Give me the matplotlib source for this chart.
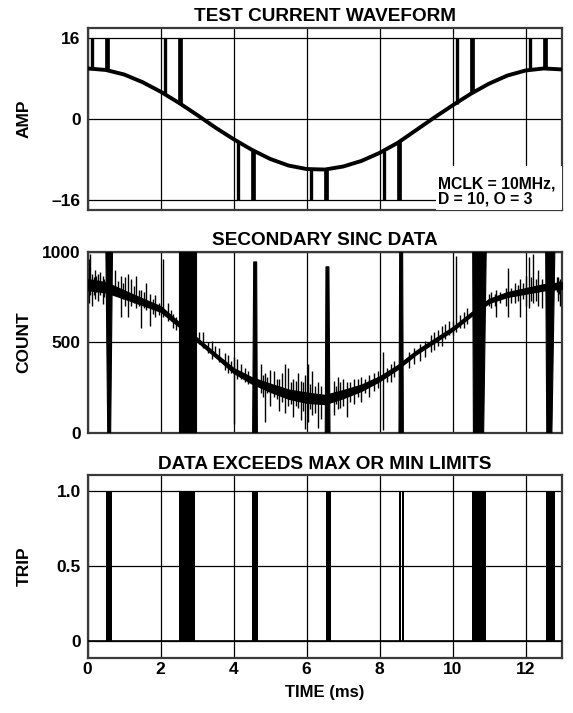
import numpy as np
import matplotlib
matplotlib.use("Agg")
import matplotlib.pyplot as plt
from matplotlib.patches import Rectangle, Polygon

plt.rcParams['font.family'] = ['Liberation Sans', 'DejaVu Sans']
plt.rcParams['font.weight'] = 'bold'
plt.rcParams['axes.labelweight'] = 'bold'
plt.rcParams['axes.titleweight'] = 'bold'

# ---- top panel: test current waveform (0.5 ms steps)
amp_t = [0, 0.5, 1, 1.5, 2, 2.5, 3, 3.5, 4, 4.5, 5, 5.5, 6, 6.5,
         7, 7.5, 8, 8.5, 9, 9.5, 10, 10.5, 11, 11.5, 12, 12.5, 13]
amp_v = [10.0, 9.7, 8.8, 7.3, 5.4, 3.2, 0.8, -1.7, -4.0, -6.1, -7.9, -9.2, -9.9, -10.0,
         -9.4, -8.3, -6.7, -4.7, -2.2, 0.3, 2.7, 5.0, 7.0, 8.6, 9.6, 10.0, 9.8]
# test pulses: time, start (on the curve), end (full scale)
pulse_t = [0.12, 0.54, 2.12, 2.54, 4.12, 4.54, 6.12, 6.54, 8.12, 8.54, 10.12, 10.54, 12.12, 12.54]
pulse_from = [10.0, 9.6, 4.9, 3.0, -4.6, -6.3, -9.9, -10.0, -6.4, -4.4, 2.9, 5.2, 9.7, 10.0]
pulse_to = [16, 16, 16, 16, -16, -16, -16, -16, -16, -16, 16, 16, 16, 16]
pulse_lw = [2.4, 3.4] * 7

# ---- middle panel: secondary sinc data
sinc_t = amp_t
sinc_mid = [820, 805, 765, 725, 685, 600, 515, 430, 345, 290, 250, 215, 195, 185,
            215, 250, 300, 365, 445, 510, 575, 655, 730, 765, 785, 805, 815]
sinc_half = [30, 28, 22, 18, 15, 12, 10, 10, 13, 17, 22, 25, 28, 25,
             22, 17, 13, 11, 10, 10, 10, 10, 11, 13, 15, 17, 18]
# noise spikes: time, low, high
spike_t = [0.03, 0.07, 0.12, 0.16, 0.2, 0.24, 0.28, 0.35, 0.42, 0.46, 0.75, 0.82, 0.9, 0.96,
           1.02, 1.1, 1.2, 1.27, 1.32, 1.4, 1.45, 1.55, 1.6, 1.7, 1.78, 1.85, 1.95, 2.07,
           2.2, 2.28, 2.35, 2.42, 3.05, 3.15, 3.3, 3.4, 3.5, 3.6, 3.75, 3.85, 3.92, 4.0,
           4.1, 4.2, 4.3, 4.4, 4.75, 4.8, 4.85, 4.92, 5.0, 5.1, 5.18, 5.25, 5.33, 5.4,
           5.5, 5.56, 5.62, 5.7, 5.75, 5.85, 5.9, 5.95, 6.05, 6.1, 6.15, 6.22, 6.3, 6.4,
           6.75, 6.8, 6.85, 6.92, 7.0, 7.1, 7.2, 7.3, 7.4, 7.5, 7.6, 7.7, 7.85, 7.95,
           8.1, 8.2, 8.3, 8.4, 8.8, 8.95, 9.1, 9.25, 9.4, 9.5, 9.6, 9.7, 9.8, 9.9,
           10.0, 10.1, 10.2, 10.3, 10.4, 11.0, 11.05, 11.15, 11.2, 11.3, 11.45, 11.53,
           11.6, 11.7, 11.78, 11.85, 11.92, 12.0, 12.1, 12.15, 12.2, 12.28, 12.35, 12.45,
           12.85, 12.88, 12.92, 12.95]
spike_lo = [720, 760, 700, 760, 740, 780, 730, 760, 710, 750, 760, 770, 640, 740,
            700, 640, 700, 720, 690, 700, 580, 690, 680, 590, 660, 640, 650, 640,
            620, 620, 580, 570, 490, 470, 440, 410, 420, 390, 350, 330, 330, 50,
            300, 300, 280, 270, 220, 200, 60, 220, 150, 200, 190, 120, 170, 110,
            150, 160, 90, 150, 140, 70, 120, 20, 60, 130, 100, 110, 30, 80,
            100, 160, 130, 140, 150, 90, 170, 160, 200, 170, 220, 200, 230, 250,
            15, 280, 280, 310, 360, 380, 400, 420, 450, 460, 480, 480, 520, 540,
            540, 560, 580, 580, 600, 700, 690, 700, 640, 720, 700, 640,
            720, 720, 730, 640, 740, 700, 690, 730, 720, 730, 700, 690,
            780, 730, 770, 700]
spike_hi = [960, 990, 880, 860, 900, 870, 880, 890, 870, 850, 900, 840, 870, 830,
            860, 880, 850, 810, 870, 790, 790, 780, 830, 770, 740, 760, 720, 960,
            720, 680, 660, 640, 560, 560, 500, 510, 480, 470, 440, 430, 400, 420,
            410, 380, 360, 340, 380, 320, 330, 310, 350, 340, 300, 300, 330, 380,
            360, 280, 300, 290, 330, 290, 280, 320, 380, 270, 340, 260, 280, 260,
            290, 260, 310, 280, 300, 280, 280, 300, 300, 310, 300, 320, 330, 340,
            450, 360, 380, 400, 450, 470, 490, 510, 540, 560, 570, 590, 600, 620,
            620, 980, 650, 670, 690, 770, 780, 770, 790, 780, 800, 910,
            800, 830, 820, 850, 830, 870, 970, 860, 990, 850, 900, 850,
            860, 860, 840, 850]
# overload bursts: left/right at top, left/right at zero, top count
burst_tl = [0.50, 2.51, 4.55, 6.53, 8.55, 10.55, 12.55]
burst_tr = [0.68, 2.96, 4.63, 6.61, 8.63, 10.92, 12.80]
burst_bl = [0.55, 2.51, 4.52, 6.51, 8.53, 10.57, 12.58]
burst_br = [0.63, 2.96, 4.65, 6.64, 8.65, 10.85, 12.72]
burst_top = [1000, 1000, 945, 918, 1000, 1000, 1000]

# ---- bottom panel: trip flag intervals
trip_on = [0.51, 2.50, 4.51, 6.52, 8.52, 8.61, 10.54, 12.55]
trip_off = [0.68, 2.95, 4.66, 6.66, 8.575, 8.66, 10.91, 12.80]

fig = plt.figure(figsize=(5.73, 7.13), dpi=100)
left, width = 0.153, 0.828
ax1 = fig.add_axes([left, 0.7055, width, 0.2552])
ax2 = fig.add_axes([left, 0.3927, width, 0.2539])
ax3 = fig.add_axes([left, 0.0778, width, 0.2553])

for ax in (ax1, ax2, ax3):
    ax.set_xlim(0, 13)
    ax.set_xticks([0, 2, 4, 6, 8, 10, 12])
    ax.grid(True, color='black', lw=0.9)
    ax.set_axisbelow(True)
    ax.tick_params(length=0, labelsize=12.5, pad=5)
    for s in ax.spines.values():
        s.set_linewidth(1.6)
        s.set_color('#3a3a3a')
    ax.yaxis.set_label_coords(-0.118, 0.5)

# top
ax1.set_ylim(-18, 18)
ax1.set_yticks([-16, 0, 16])
ax1.set_yticklabels(['\u201316', '0', '16'])
ax1.set_xticklabels([])
ax1.plot(amp_t, amp_v, color='black', lw=2.8, solid_capstyle='butt', zorder=3)
for t, a, b, w in zip(pulse_t, pulse_from, pulse_to, pulse_lw):
    ax1.plot([t, t], [a, b], color='black', lw=w, solid_capstyle='butt', zorder=3)
ax1.add_patch(Rectangle((9.55, -18), 3.45, 8.7, facecolor='white', edgecolor='none', zorder=4))
ax1.text(9.6, -14.3, 'MCLK = 10MHz,\nD = 10, O = 3', fontsize=11.3, fontweight='bold',
         ha='left', va='center', linespacing=1.0, zorder=5)
ax1.set_ylabel('AMP', fontsize=12.5)
ax1.set_title('TEST CURRENT WAVEFORM', fontsize=13.7, pad=5)

# middle
ax2.set_ylim(0, 1000)
ax2.set_yticks([0, 500, 1000])
ax2.set_xticklabels([])
lo = np.array(sinc_mid) - np.array(sinc_half)
hi = np.array(sinc_mid) + np.array(sinc_half)
ax2.fill_between(sinc_t, lo, hi, color='black', lw=1.0, zorder=3)
ax2.vlines(spike_t, spike_lo, spike_hi, color='black', lw=1.0, zorder=3)
for tl, tr, bl, br, top in zip(burst_tl, burst_tr, burst_bl, burst_br, burst_top):
    ax2.add_patch(Polygon([(tl, top), (tr, top), (br, 0), (bl, 0)], closed=True,
                          facecolor='black', edgecolor='black', lw=0.8, zorder=3))
ax2.set_ylabel('COUNT', fontsize=12.5)
ax2.set_title('SECONDARY SINC DATA', fontsize=13.7, pad=5)

# bottom
ax3.set_ylim(-0.11, 1.1)
ax3.set_yticks([0, 0.5, 1.0])
ax3.set_yticklabels(['0', '0.5', '1.0'])
ax3.tick_params(axis='x', pad=3)
ax3.plot([0, 13], [0, 0], color='black', lw=1.2, zorder=3)
for a, b in zip(trip_on, trip_off):
    ax3.fill_between([a, b], 0, 1, color='black', lw=0, zorder=3)
ax3.set_ylabel('TRIP', fontsize=12.5)
ax3.set_xlabel('TIME (ms)', fontsize=12, labelpad=6)
ax3.set_title('DATA EXCEEDS MAX OR MIN LIMITS', fontsize=13.7, pad=5)

fig.savefig('out.png', dpi=100)
